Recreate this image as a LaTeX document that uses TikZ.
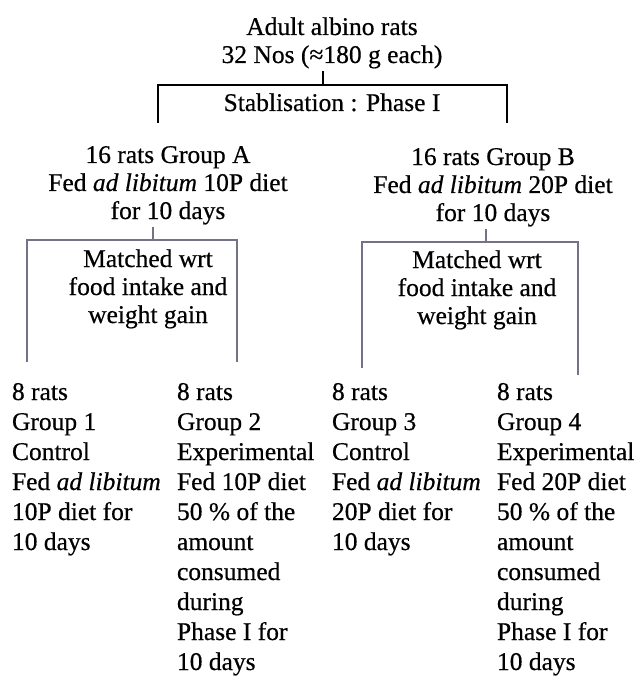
\documentclass[tikz,border=0pt]{standalone}
\usepackage{fontspec}
\setmainfont{Liberation Serif}[FakeBold=0.5]
\definecolor{linegray}{RGB}{115,115,135}
\tikzset{
  txt/.style={inner sep=0pt, outer sep=0pt, anchor=base, font=\fontsize{25.5}{28}\selectfont},
  cell/.style={inner sep=0pt, outer sep=0pt, anchor=base west, font=\fontsize{25.5}{30}\selectfont},
  mainline/.style={line width=1.8pt, draw=black},
  subline/.style={line width=1.4pt, draw=linegray},
}
\begin{document}
\begin{tikzpicture}[x=1pt,y=-1pt]
\useasboundingbox (0,0) rectangle (643,679);
% top
\node[txt] (top) at (332,35) {\begin{tabular}[t]{@{}c@{}}Adult albino rats\\32 Nos (≈180 g each)\end{tabular}};
\node[txt] (stab) at (332,111) {Stablisation : Phase I};
\coordinate (tj) at (323,85);
\coordinate (bl) at (158,123);
\coordinate (br) at (507,123);
\draw[mainline] (tj |- top.south) -- (tj);
\draw[mainline] (bl) |- (tj) -| (br);
% groups A and B
\node[txt] (ga) at (168,163) {\begin{tabular}[t]{@{}c@{}}16 rats Group A\\Fed \textit{ad libitum} 10P diet\\for 10 days\end{tabular}};
\node[txt] (gb) at (493,165) {\begin{tabular}[t]{@{}c@{}}16 rats Group B\\Fed \textit{ad libitum} 20P diet\\for 10 days\end{tabular}};
\coordinate (aj) at (153,240);
\coordinate (al) at (27,362);
\coordinate (ar) at (237,362);
\coordinate (bj) at (486,242);
\coordinate (bl2) at (362,368);
\coordinate (br2) at (578,375);
\draw[subline] (aj |- ga.south) -- (aj);
\draw[subline] (al) |- (aj) -| (ar);
\draw[subline] (bj |- gb.south) -- (bj);
\draw[subline] (bl2) |- (bj) -| (br2);
\node[txt] (ma) at (148,267) {\begin{tabular}[t]{@{}c@{}}Matched wrt\\food intake and\\weight gain\end{tabular}};
\node[txt] (mb) at (477,268) {\begin{tabular}[t]{@{}c@{}}Matched wrt\\food intake and\\weight gain\end{tabular}};
% columns
\node[cell] (c1) at (12,400) {\begin{tabular}[t]{@{}l@{}}8 rats\\Group 1\\Control\\Fed \textit{ad libitum}\\10P diet for\\10 days\end{tabular}};
\node[cell] (c2) at (177,400) {\begin{tabular}[t]{@{}l@{}}8 rats\\Group 2\\Experimental\\Fed 10P diet\\50 \% of the\\amount\\consumed\\during\\Phase I for\\10 days\end{tabular}};
\node[cell] (c3) at (332,400) {\begin{tabular}[t]{@{}l@{}}8 rats\\Group 3\\Control\\Fed \textit{ad libitum}\\20P diet for\\10 days\end{tabular}};
\node[cell] (c4) at (497,400) {\begin{tabular}[t]{@{}l@{}}8 rats\\Group 4\\Experimental\\Fed 20P diet\\50 \% of the\\amount\\consumed\\during\\Phase I for\\10 days\end{tabular}};
\end{tikzpicture}
\end{document}
